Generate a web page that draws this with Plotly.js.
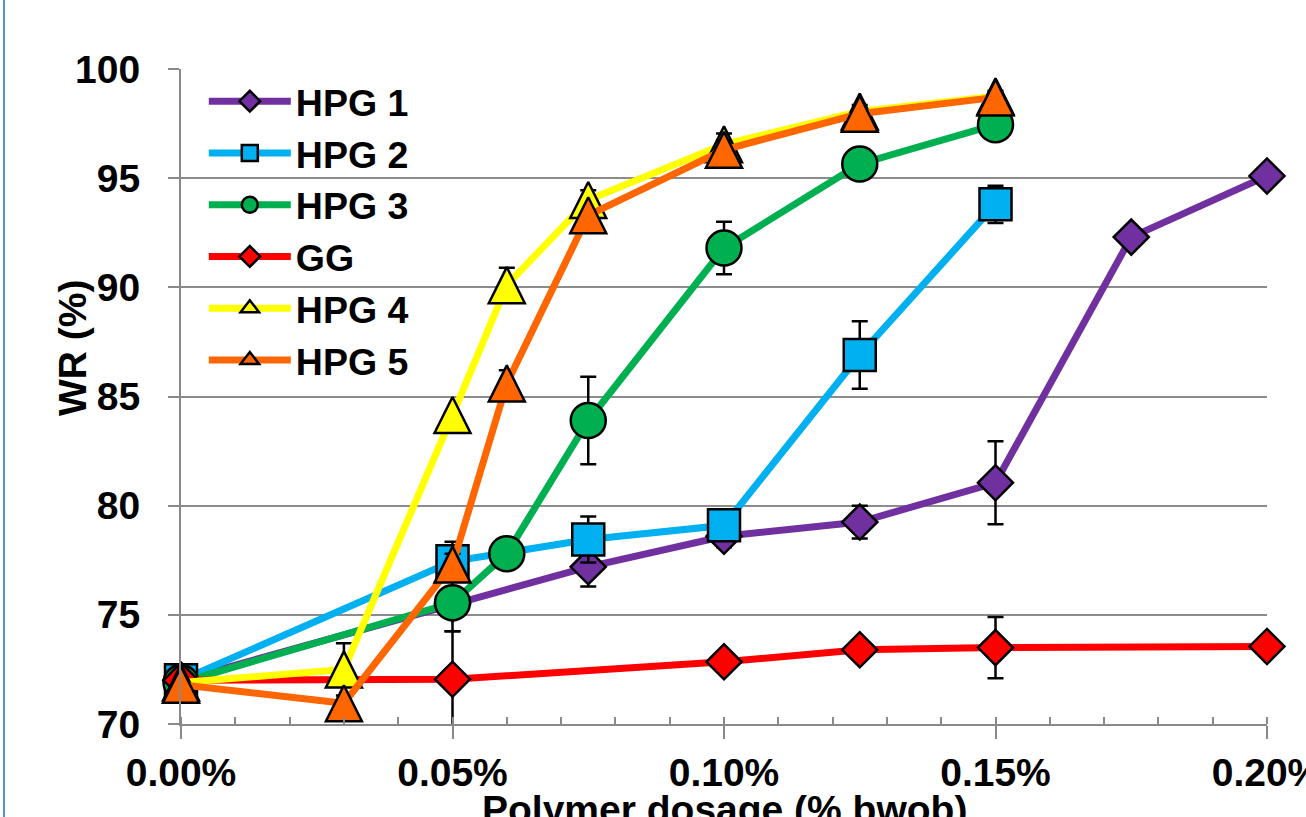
<!DOCTYPE html>
<html><head><meta charset="utf-8">
<script src="https://cdn.plot.ly/plotly-3.0.1.min.js"></script>
<style>html,body{margin:0;padding:0;background:#fff;overflow:hidden}#chart{width:1306px;height:817px}</style>
</head><body><div id="chart"></div>
<script>
// ---- data (WR % vs polymer dosage % bwob) ----
const seriesNames = ['HPG 1', 'HPG 2', 'HPG 3', 'GG', 'HPG 4', 'HPG 5'];

const hpg1Dosage = [0, 0.05, 0.075, 0.1, 0.125, 0.15, 0.175, 0.2];
const hpg1WR     = [72.0, 75.5, 77.2, 78.6, 79.25, 81.05, 92.3, 95.1];
const hpg1Err    = [0, 0, 0.9, 0.5, 0.75, 1.9, 0, 0];

const hpg2Dosage = [0, 0.05, 0.075, 0.1, 0.125, 0.15];
const hpg2WR     = [72.0, 77.45, 78.45, 79.1, 86.9, 93.8];
const hpg2Err    = [0, 0.9, 1.05, 0.3, 1.55, 0.85];

const hpg3Dosage = [0, 0.05, 0.06, 0.075, 0.1, 0.125, 0.15];
const hpg3WR     = [71.9, 75.55, 77.8, 83.9, 91.8, 95.65, 97.45];
const hpg3Err    = [0, 1.3, 0, 2.0, 1.2, 0, 0];

const ggDosage   = [0, 0.05, 0.1, 0.125, 0.15, 0.2];
const ggWR       = [72.0, 72.05, 72.85, 73.4, 73.5, 73.55];
const ggErr      = [0, 2.2, 0, 0, 1.4, 0];

const hpg4Dosage = [0, 0.03, 0.05, 0.06, 0.075, 0.1, 0.125, 0.15];
const hpg4WR     = [71.9, 72.5, 84.15, 90.1, 94.0, 96.55, 98.05, 98.75];
const hpg4Err    = [0, 1.2, 0, 0.8, 0.45, 0.5, 0, 0];

const hpg5Dosage = [0, 0.03, 0.05, 0.06, 0.075, 0.1, 0.125, 0.15];
const hpg5WR     = [71.8, 70.95, 77.3, 85.6, 93.3, 96.3, 97.95, 98.7];
const hpg5Err    = [0, 0, 0.5, 0.6, 0, 0.4, 0.4, 0.3];

const xTickVals = [0, 0.05, 0.1, 0.15, 0.2];
const xTickText = ['0.00%', '0.05%', '0.10%', '0.15%', '0.20%'];
const yTickVals = [70, 75, 80, 85, 90, 95, 100];
const yTickText = ['70', '75', '80', '85', '90', '95', '100'];

const xTitle = 'Polymer dosage (% bwob)';
const yTitle = 'WR (%)';

// ---- styling ----
const FONT = '"Liberation Sans", Arial, Helvetica, sans-serif';
const AX = '#898989';

function series(name, x, y, err, color, symbol, size, tri) {
  const marker = {symbol: symbol, size: size, color: color, line: {color: '#000', width: 2.5}};
  if (tri) { marker.angle = 180; marker.standoff = size / 2; }
  return {
    type: 'scatter', mode: 'lines+markers', name: name, x: x, y: y,
    line: {color: color, width: 7},
    marker: marker,
    showlegend: !tri,
    error_y: {type: 'data', array: err, visible: true, color: '#000', thickness: 2.5, width: 8},
    cliponaxis: false
  };
}

// legend-only entry (no drawable point) for the triangle series
function legendEntry(name, color) {
  return {
    type: 'scatter', mode: 'lines+markers', name: name, x: [null], y: [null],
    line: {color: color, width: 7},
    marker: {symbol: 'triangle-up', size: 16, color: color, line: {color: '#000', width: 2.5}},
    hoverinfo: 'skip'
  };
}

const data = [
  series(seriesNames[0], hpg1Dosage, hpg1WR, hpg1Err, '#7030a0', 'diamond', 27),
  series(seriesNames[1], hpg2Dosage, hpg2WR, hpg2Err, '#00b0f0', 'square', 32),
  series(seriesNames[2], hpg3Dosage, hpg3WR, hpg3Err, '#00b050', 'circle', 35),
  series(seriesNames[3], ggDosage, ggWR, ggErr, '#ff0000', 'diamond', 27),
  series(seriesNames[4], hpg4Dosage, hpg4WR, hpg4Err, '#ffff00', 'arrow-down', 36, true),
  series(seriesNames[5], hpg5Dosage, hpg5WR, hpg5Err, '#ff6600', 'arrow-down', 36, true),
  legendEntry(seriesNames[4], '#ffff00'),
  legendEntry(seriesNames[5], '#ff6600'),
  {type: 'scatter', x: [], y: [], xaxis: 'x2', yaxis: 'y2', showlegend: false, hoverinfo: 'skip'}
];

const layout = {
  width: 1306, height: 817,
  margin: {l: 181, r: 39, t: 69, b: 93, pad: 0},
  paper_bgcolor: '#ffffff', plot_bgcolor: '#ffffff',
  font: {family: FONT, size: 39, color: '#000', weight: 700},
  showlegend: true,
  legend: {
    x: 0.021, y: 0.998, xanchor: 'left', yanchor: 'top',
    bgcolor: 'rgba(255,255,255,0)', borderwidth: 0,
    font: {family: FONT, size: 37.5, color: '#000', weight: 700},
    itemwidth: 82, tracegroupgap: 0
  },
  xaxis: {
    range: [0, 0.2], tickmode: 'array', tickvals: xTickVals, ticktext: xTickText,
    ticks: 'outside', ticklen: 13, tickwidth: 2, tickcolor: AX,
    showline: true, linecolor: AX, linewidth: 2, showgrid: false, zeroline: false,
    tickfont: {family: FONT, size: 39, color: '#000', weight: 700},
    ticklabelstandoff: 0, ticklabeloverflow: 'allow',
    minor: {ticks: 'inside', ticklen: 7, dtick: 0.01, tick0: 0, tickwidth: 2, tickcolor: AX, showgrid: false},
    fixedrange: true
  },
  xaxis2: {
    overlaying: 'x', anchor: 'y2', range: [0, 0.2], tickmode: 'array', tickvals: xTickVals,
    ticks: 'inside', ticklen: 7, tickwidth: 2, tickcolor: AX, showticklabels: false,
    showline: false, showgrid: false, zeroline: false
  },
  yaxis: {
    range: [70, 100], tickmode: 'array', tickvals: yTickVals, ticktext: yTickText,
    ticks: 'outside', ticklen: 11, tickwidth: 2, tickcolor: AX,
    showline: true, linecolor: AX, linewidth: 2,
    showgrid: true, gridcolor: '#8c8c8c', gridwidth: 2, zeroline: false,
    tickfont: {family: FONT, size: 39, color: '#000', weight: 700},
    ticklabelstandoff: 20,
    fixedrange: true
  },
  yaxis2: {
    overlaying: 'y', anchor: 'x2', range: [70, 100], tickmode: 'array', tickvals: yTickVals,
    ticks: 'inside', ticklen: 3, tickwidth: 2, tickcolor: AX, showticklabels: false,
    showline: false, showgrid: false, zeroline: false
  },
  annotations: [
    {text: xTitle, xref: 'paper', yref: 'paper', x: 0.5, y: -0.13, xanchor: 'center', yanchor: 'middle',
     showarrow: false, font: {family: FONT, size: 39, color: '#000', weight: 700}},
    {text: yTitle, xref: 'paper', yref: 'paper', x: -0.1004, y: 0.574, xanchor: 'center', yanchor: 'middle',
     textangle: -90, showarrow: false, font: {family: FONT, size: 39, color: '#000', weight: 700}}
  ],
  shapes: [
    {type: 'line', xref: 'paper', yref: 'paper', x0: -0.1630, x1: -0.1630, y0: -0.3, y1: 1.2,
     line: {color: '#5b8fd0', width: 2}}
  ]
};

Plotly.newPlot('chart', data, layout, {displayModeBar: false, staticPlot: true});
</script>
</body></html>
